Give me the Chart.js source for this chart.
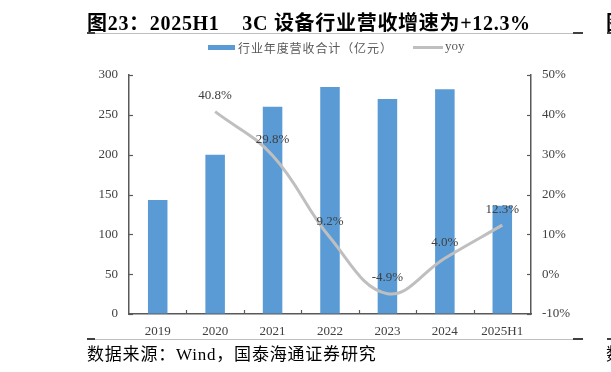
<!DOCTYPE html>
<html>
<head>
<meta charset="utf-8">
<script src="https://cdn.jsdelivr.net/npm/chart.js@4/dist/chart.umd.min.js"></script>
<style>
  html, body { margin:0; padding:0; background:#fff; }
  body { width:611px; height:372px; position:relative; overflow:hidden; }
  #c { position:absolute; left:0; top:0; }
  .t { position:absolute; white-space:pre; }
  #title { left:87px; top:7px; font: bold 20px 'Liberation Serif', 'Noto Sans CJK SC', serif; color:#000; letter-spacing:0.7px; }
  #src { left:87px; top:340px; font: 17px 'Liberation Serif', 'Noto Sans CJK SC', serif; color:#000; letter-spacing:0.8px; }
  .hl { position:absolute; height:1px; background:#bfbfbf; }
  .dk { position:absolute; height:2px; background:#404040; }
  #legend { position:absolute; left:208px; top:39px; height:16px; font: 12px 'Liberation Serif', 'Noto Sans CJK SC', serif; color:#595959; }
  .sw { position:absolute; }
</style>
</head>
<body>
<canvas id="c" width="611" height="372"></canvas>
<div class="t" id="title">图23：2025H1    3C 设备行业营收增速为+12.3%</div>
<div class="hl" style="left:87px;top:33px;width:496px;"></div>
<div class="dk" style="left:87px;top:32px;width:8px;"></div>
<div class="dk" style="left:573px;top:32px;width:10px;"></div>
<div class="t" style="left:606px;top:7px;font:bold 20px 'Noto Sans CJK SC';color:#000;">图</div>
<div class="dk" style="left:607px;top:32px;width:4px;"></div>
<div id="legend">
  <div class="sw" style="left:0;top:6px;width:27px;height:5px;background:#5B9BD5;"></div>
  <div class="t" style="left:30px;top:0;letter-spacing:0.9px;">行业年度营收合计（亿元）</div>
  <div class="sw" style="left:205px;top:7px;width:30px;height:3px;background:#BFBFBF;"></div>
  <div class="t" style="left:237px;top:-1px;font-size:13px;">yoy</div>
</div>
<div class="hl" style="left:87px;top:339px;width:496px;"></div>
<div class="dk" style="left:87px;top:338px;width:8px;"></div>
<div class="dk" style="left:573px;top:338px;width:10px;"></div>
<div class="dk" style="left:607px;top:338px;width:4px;"></div>
<div class="t" id="src">数据来源：Wind，国泰海通证券研究</div>
<div class="t" style="left:606px;top:340px;font:17px 'Noto Sans CJK SC';color:#000;">数</div>
<script>
const categories = ['2019','2020','2021','2022','2023','2024','2025H1'];
const revenue = [143, 200, 260, 285, 270, 282, 136];
const yoy = [null, 40.8, 29.8, 9.2, -4.9, 4.0, 12.3];
const yoyLabels = ['', '40.8%', '29.8%', '9.2%', '-4.9%', '4.0%', '12.3%'];

const tickFont = { family: "'Liberation Serif', serif", size: 13 };
const axisColor = '#595959';

const extras = {
  id: 'extras',
  afterDatasetsDraw(chart) {
    const ctx = chart.ctx;
    const ca = chart.chartArea;
    const y = chart.scales.y, y1 = chart.scales.y1, x = chart.scales.x;
    ctx.save();
    ctx.strokeStyle = axisColor;
    ctx.lineWidth = 1.2;
    y.ticks.forEach((t) => {
      const py = Math.round(y.getPixelForValue(t.value)) + 0.5;
      ctx.beginPath(); ctx.moveTo(ca.left, py); ctx.lineTo(ca.left + 4, py); ctx.stroke();
    });
    y1.ticks.forEach((t) => {
      const py = Math.round(y1.getPixelForValue(t.value)) + 0.5;
      ctx.beginPath(); ctx.moveTo(ca.right, py); ctx.lineTo(ca.right - 4, py); ctx.stroke();
    });
    for (let i = 1; i < categories.length; i++) {
      const px = Math.round((x.getPixelForValue(i - 1) + x.getPixelForValue(i)) / 2) + 0.5;
      ctx.beginPath(); ctx.moveTo(px, ca.bottom); ctx.lineTo(px, ca.bottom - 4); ctx.stroke();
    }
    const meta = chart.getDatasetMeta(1);
    ctx.fillStyle = '#404040';
    ctx.font = "13px 'Liberation Serif', serif";
    ctx.textAlign = 'center';
    ctx.textBaseline = 'middle';
    meta.data.forEach((el, i) => {
      if (yoy[i] === null) return;
      ctx.fillText(yoyLabels[i], el.x, el.y - 16);
    });
    ctx.restore();
  }
};

new Chart(document.getElementById('c'), {
  data: {
    labels: categories,
    datasets: [
      {
        type: 'bar',
        label: '行业年度营收合计（亿元）',
        data: revenue,
        backgroundColor: '#5B9BD5',
        borderWidth: 0,
        yAxisID: 'y',
        categoryPercentage: 1,
        barPercentage: 0.34,
        order: 2
      },
      {
        type: 'line',
        label: 'yoy',
        data: yoy,
        borderColor: '#BFBFBF',
        borderWidth: 3,
        pointRadius: 0,
        tension: 0.4,
        fill: false,
        yAxisID: 'y1',
        order: 1
      }
    ]
  },
  options: {
    responsive: false,
    devicePixelRatio: 1,
    animation: false,
    layout: { padding: { left: 80, right: 30, top: 75, bottom: 34 } },
    plugins: { legend: { display: false }, tooltip: { enabled: false } },
    scales: {
      x: {
        offset: true,
        grid: { display: true, drawOnChartArea: false, drawTicks: false, color: 'rgba(0,0,0,0)' },
        border: { display: true, color: axisColor, width: 1.5 },
        ticks: { font: tickFont, color: '#404040', padding: 10, maxRotation: 0 },
        afterFit(s) { s.height = 24; }
      },
      y: {
        position: 'left',
        min: 0, max: 300,
        ticks: { stepSize: 50, font: tickFont, color: '#404040', padding: 11 },
        grid: { display: true, drawOnChartArea: false, drawTicks: false, color: 'rgba(0,0,0,0)' },
        border: { display: true, color: axisColor, width: 1.5 },
        afterFit(s) { s.width = 49; }
      },
      y1: {
        position: 'right',
        min: -10, max: 50,
        ticks: { stepSize: 10, font: tickFont, color: '#404040', padding: 11, callback: (v) => v + '%' },
        grid: { display: true, drawOnChartArea: false, drawTicks: false, color: 'rgba(0,0,0,0)' },
        border: { display: true, color: axisColor, width: 1.5 },
        afterFit(s) { s.width = 50; }
      }
    }
  },
  plugins: [extras]
});
</script>
</body>
</html>
